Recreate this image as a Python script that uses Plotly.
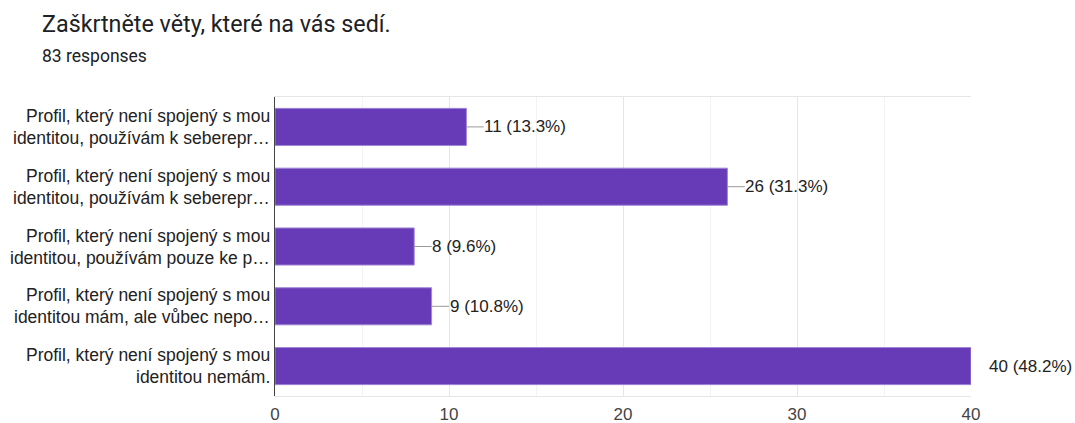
import plotly.graph_objects as go

title = "Zaškrtněte věty, které na vás sedí."
subtitle = "83 responses"
labels = [
    "Profil, který není spojený s mou<br>identitou, používám k seberepr…",
    "Profil, který není spojený s mou<br>identitou, používám k seberepr…",
    "Profil, který není spojený s mou<br>identitou, používám pouze ke p…",
    "Profil, který není spojený s mou<br>identitou mám, ale vůbec nepo…",
    "Profil, který není spojený s mou<br>identitou nemám.",
]
counts = [11, 26, 8, 9, 40]
percents = [13.3, 31.3, 9.6, 10.8, 48.2]
x_ticks = [0, 10, 20, 30, 40]

pos = list(range(len(counts)))
purple = "#673ab7"
label_font = dict(family="Liberation Sans, Arial, sans-serif", size=17.5, color="#222222")
value_font = dict(family="Liberation Sans, Arial, sans-serif", size=17, color="#222222")

W, H = 1075, 423
L, R, T, B = 275, 104, 97, 27
plot_w = W - L - R
plot_h = H - T - B

fig = go.Figure()
fig.add_trace(go.Bar(
    x=counts, y=pos, orientation="h", width=0.62,
    marker=dict(color=purple, line=dict(color="#9f86d6", width=1)),
    hoverinfo="x",
))

annotations = []
shapes = []
for p, c, pc, lab in zip(pos, counts, percents, labels):
    annotations.append(dict(
        x=c, y=p, xref="x", yref="y", text=f"{c} ({pc}%)", showarrow=False,
        xanchor="left", yanchor="middle", xshift=16, font=value_font,
    ))
    shapes.append(dict(type="line", xref="x", yref="y", x0=c, x1=c + 1, y0=p, y1=p,
                       line=dict(color="#999999", width=1)))
    lines = lab.split("<br>")
    shifts = [11, -11] if len(lines) == 2 else [0]
    for ln, ys in zip(lines, shifts):
        annotations.append(dict(
            x=0, y=p, xref="paper", yref="y", text=ln, showarrow=False,
            xanchor="right", yanchor="middle", xshift=-3, yshift=ys, font=label_font,
        ))

annotations.append(dict(
    x=(42 - L) / plot_w, y=(H - B - 56) / plot_h, xref="paper", yref="paper",
    text=subtitle, showarrow=False, xanchor="left", yanchor="middle", xshift=-2,
    font=dict(family="Roboto, sans-serif", size=17.5, color="#202124"),
))

fig.update_layout(
    width=W, height=H,
    margin=dict(l=L, r=R, t=T, b=B),
    paper_bgcolor="white", plot_bgcolor="white",
    showlegend=False,
    title=dict(text=title, x=42 / W, xref="container", xanchor="left",
               y=1 - 24 / H, yref="container", yanchor="middle",
               font=dict(family="Roboto, sans-serif", size=23.3, color="#202124")),
    xaxis=dict(
        range=[0, 40], tickvals=x_ticks, showgrid=True, gridcolor="#e6e6e6",
        zeroline=False, showline=True, mirror=True, linecolor="#e6e6e6", linewidth=1,
        ticks="", ticklabelstandoff=3,
        tickfont=dict(family="Liberation Sans, Arial, sans-serif", size=17, color="#444444"),
        minor=dict(dtick=5, showgrid=True, gridcolor="#f3f3f3"),
        automargin=False, fixedrange=True,
    ),
    yaxis=dict(
        range=[4.5, -0.5], showticklabels=False, showgrid=False, zeroline=False,
        showline=True, linecolor="#444444", linewidth=1, ticks="",
        automargin=False, fixedrange=True,
    ),
    annotations=annotations,
    shapes=shapes,
)
fig.write_html(
    "out.html",
    config={"displayModeBar": False},
    post_script="document.body.style.margin='0';document.body.style.overflow='hidden';",
)
